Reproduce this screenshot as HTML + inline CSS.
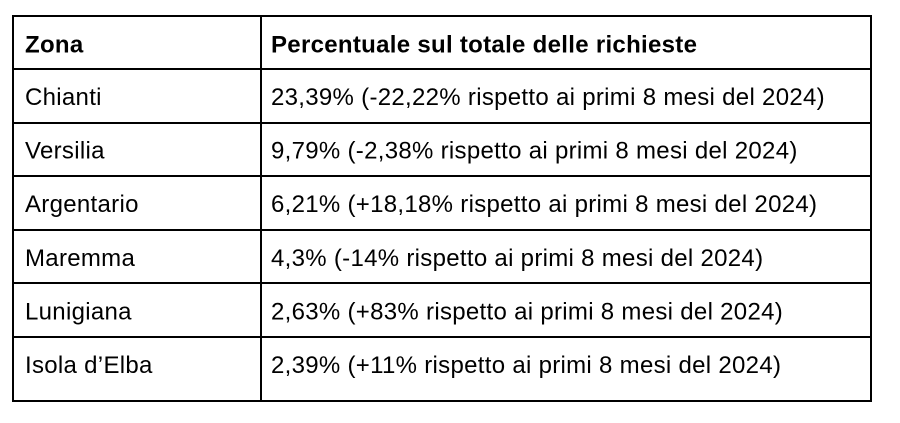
<!DOCTYPE html>
<html>
<head>
<meta charset="utf-8">
<style>
  html, body { margin: 0; padding: 0; background: #ffffff; }
  body { width: 900px; height: 423px; overflow: hidden; }
  svg { display: block; }
  text { font-family: "Liberation Sans", Arial, sans-serif; font-size: 24px; fill: #000; letter-spacing: 0.3px; }
  .b { font-weight: bold; }
</style>
</head>
<body>
<svg width="900" height="423" viewBox="0 0 900 423" xmlns="http://www.w3.org/2000/svg">
  <rect x="0" y="0" width="900" height="423" fill="#ffffff"/>
  <!-- horizontal lines -->
  <rect x="12" y="15" width="860" height="2" fill="#000"/>
  <rect x="12" y="68" width="860" height="2" fill="#000"/>
  <rect x="12" y="122" width="860" height="2" fill="#000"/>
  <rect x="12" y="175" width="860" height="2" fill="#000"/>
  <rect x="12" y="229" width="860" height="2" fill="#000"/>
  <rect x="12" y="282" width="860" height="2" fill="#000"/>
  <rect x="12" y="336" width="860" height="2" fill="#000"/>
  <rect x="12" y="400" width="860" height="2" fill="#000"/>
  <!-- vertical lines -->
  <rect x="12" y="15" width="2" height="387" fill="#000"/>
  <rect x="260" y="15" width="2" height="387" fill="#000"/>
  <rect x="870" y="15" width="2" height="387" fill="#000"/>

  <!-- header -->
  <text class="b" x="25" y="52.5">Zona</text>
  <text class="b" x="271" y="52.5">Percentuale sul totale delle richieste</text>

  <!-- rows -->
  <text x="25" y="105">Chianti</text>
  <text x="271" y="105">23,39% (-22,22% rispetto ai primi 8 mesi del 2024)</text>

  <text x="25" y="158.6">Versilia</text>
  <text x="271" y="158.6">9,79% (-2,38% rispetto ai primi 8 mesi del 2024)</text>

  <text x="25" y="212.2">Argentario</text>
  <text x="271" y="212.2">6,21% (+18,18% rispetto ai primi 8 mesi del 2024)</text>

  <text x="25" y="265.8">Maremma</text>
  <text x="271" y="265.8">4,3% (-14% rispetto ai primi 8 mesi del 2024)</text>

  <text x="25" y="319.4">Lunigiana</text>
  <text x="271" y="319.4">2,63% (+83% rispetto ai primi 8 mesi del 2024)</text>

  <text x="25" y="373">Isola d’Elba</text>
  <text x="271" y="373">2,39% (+11% rispetto ai primi 8 mesi del 2024)</text>
</svg>
</body>
</html>
